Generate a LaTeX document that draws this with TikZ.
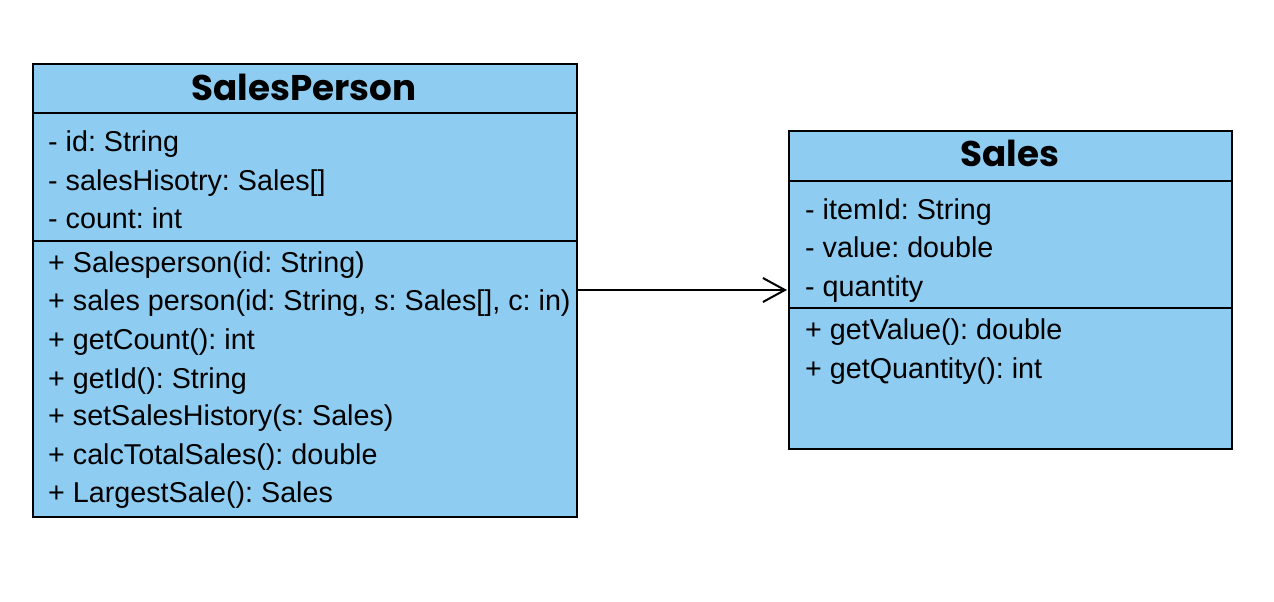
\documentclass[tikz,border=0pt]{standalone}
\usepackage{fontspec}
\setmainfont{Liberation Sans}
\newfontfamily\titlefont{Poppins}[UprightFont=* Bold]
\usetikzlibrary{arrows.meta}
\definecolor{umlblue}{RGB}{142,204,241}
\tikzset{
  classbox/.style={draw=black, fill=umlblue, line width=2pt, inner sep=0pt, outer sep=0pt, anchor=north west},
  sepline/.style={draw=black, line width=2pt},
  member/.style={anchor=base west, inner sep=0pt, font=\frenchspacing\fontsize{28.7}{33}\selectfont},
  ctitle/.style={anchor=center, inner sep=0pt, font=\titlefont\fontsize{35.7}{40}\selectfont},
  assoc/.style={draw=black, line width=2pt, -{Straight Barb[length=22pt,width=24pt,line width=2pt]}},
}
\begin{document}
\begin{tikzpicture}[x=1pt,y=-1pt]
\useasboundingbox (0,0) rectangle (1274,602);
% SalesPerson
\node[classbox, minimum width=544pt, minimum height=453pt] (sp) at (33,64) {};
\draw[sepline] (33,113) -- (577,113);
\draw[sepline] (33,241) -- (577,241);
\node[ctitle] (spt) at (304,87) {SalesPerson};
\node[member] (a1) at (48,151) {- id: String};
\node[member] (a2) at (48,190) {- salesHisotry: Sales[]};
\node[member] (a3) at (48,228) {- count: int};
\node[member] (m1) at (48,272) {+ Salesperson(id: String)};
\node[member] (m2) at (48,310) {+ sales person(id: String, s: Sales[], c: in)};
\node[member] (m3) at (48,349) {+ getCount(): int};
\node[member] (m4) at (48,388) {+ getId(): String};
\node[member] (m5) at (48,425) {+ setSalesHistory(s: Sales)};
\node[member] (m6) at (48,464) {+ calcTotalSales(): double};
\node[member] (m7) at (48,502) {+ LargestSale(): Sales};
% Sales
\node[classbox, minimum width=443pt, minimum height=318pt] (sa) at (789,131) {};
\draw[sepline] (789,181) -- (1232,181);
\draw[sepline] (789,308) -- (1232,308);
\node[ctitle] (sat) at (1010,153) {Sales};
\node[member] (b1) at (805,219) {- itemId: String};
\node[member] (b2) at (805,257) {- value: double};
\node[member] (b3) at (805,296) {- quantity};
\node[member] (n1) at (805,339) {+ getValue(): double};
\node[member] (n2) at (805,378) {+ getQuantity(): int};
% association
\coordinate (src) at (577,290);
\coordinate (dst) at (787,290);
\draw[assoc] (src) -- (dst);
\end{tikzpicture}
\end{document}
